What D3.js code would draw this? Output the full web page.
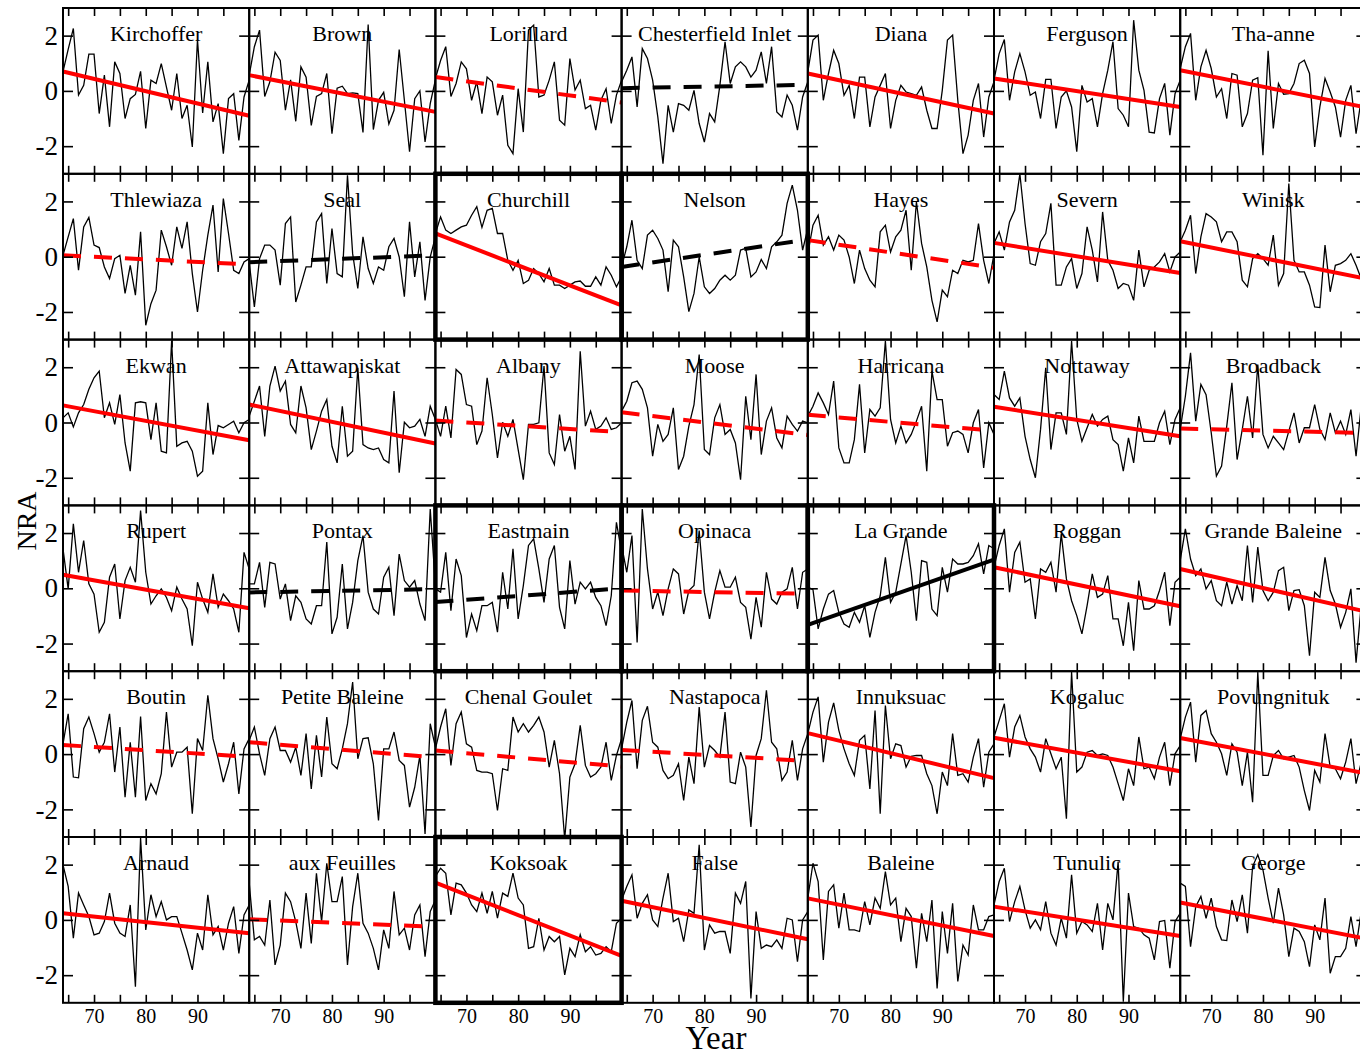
<!DOCTYPE html>
<html>
<head>
<meta charset="utf-8">
<script src="https://cdn.jsdelivr.net/npm/d3@7"></script>
<style>
  body { margin: 0; background: #fff; }
  svg { display: block; font-family: "Liberation Serif", "Times New Roman", serif; }
</style>
</head>
<body>
<div id="vis"></div>
<script>
// Frame and panel grid
const FRAME_WIDTH = 1360;
const FRAME_HEIGHT = 1057;
const MARGINS = {left: 63, top: 8};
const PANEL_W = 186.2;
const PANEL_H = 165.8;
const N_COLS = 7;
const SERIF = "'Liberation Serif', 'Times New Roman', serif";

// axis values
const years = d3.range(64, 101);        // 1964 .. 2000
const xTicks = [65, 70, 75, 80, 85, 90, 95];
const xLabels = [70, 80, 90];
const yTicks = [-2, 0, 2];

const stations = [
  "Kirchoffer", "Brown", "Lorillard", "Chesterfield Inlet", "Diana", "Ferguson", "Tha-anne",
  "Thlewiaza", "Seal", "Churchill", "Nelson", "Hayes", "Severn", "Winisk",
  "Ekwan", "Attawapiskat", "Albany", "Moose", "Harricana", "Nottaway", "Broadback",
  "Rupert", "Pontax", "Eastmain", "Opinaca", "La Grande", "Roggan", "Grande Baleine",
  "Boutin", "Petite Baleine", "Chenal Goulet", "Nastapoca", "Innuksuac", "Kogaluc", "Povungnituk",
  "Arnaud", "aux Feuilles", "Koksoak", "False", "Baleine", "Tunulic", "George"
];

// NRA series, one value per year
const kirchoffer = [0.7, 1.5, 2.26, -0.15, 0.2, 1.33, 1.33, -0.82, 0.57, -1.3, 1.05, 0.63, -1.0, -0.28, -0.13, 0.71, -1.36, 0.39, 0.27, 0.99, 0.14, -0.7, 0.63, -1.0, -0.52, -2.03, 1.86, -0.8, 1.05, -1.12, -0.46, -2.27, -0.28, -0.1, -1.79, -0.22, 0.39];
const brown = [0.57, 1.6, 2.2, -0.2, 0.33, 1.4, 1.1, -0.7, 0.4, -1.1, 0.87, 0.5, -1.25, -0.2, -0.1, 0.63, -1.55, 0.1, 0.17, -0.1, -0.07, -0.1, -1.5, 2.4, -1.4, -0.34, -0.05, -1.2, -0.7, 1.5, -0.34, -2.2, -0.28, 0, -1.85, -0.46, 0.4];
const lorillard = [0.45, 1.1, 1.6, -0.2, 0.27, 1.05, 0.8, -0.34, 0.33, -0.82, 0.5, 0.33, -0.88, -0.15, -1.97, -2.27, 0.08, -1.49, 2.2, 2.38, -0.22, -0.15, 0.39, 1.05, -1.06, -1.24, 1.17, 0.03, 0.39, -0.64, -0.52, -1.42, -0.34, 0.08, -1.18, -0.15, 0.39];
const chesterfield = [0.33, 0.75, 1.23, -0.58, 1.53, 1.17, 0.39, -0.94, -2.63, -0.52, -1.49, -0.46, -0.52, -0.7, 0.02, -1.18, -1.85, -0.82, -1.12, 0.2, 1.78, 0.27, 0.87, 1.05, 0.87, 0.5, 0.75, 1.41, 0.27, 1.6, -0.76, -0.94, -0.15, -0.52, -1.42, -0.22, 0.33];
const diana = [0.69, 1.84, 2.02, -0.34, 0.63, 1.47, 0.99, -0.16, 0.2, -1.0, 0.5, 0.5, -1.3, -0.22, 0.2, 0.63, -1.36, -0.34, 0.2, -0.04, -0.1, -0.16, 0.14, -0.7, -1.36, -1.36, 0.02, 1.84, 2.02, -0.34, -2.27, -1.6, -0.34, 0.27, -1.67, -0.22, 0.33];
const ferguson = [0.39, 1.35, 1.86, -0.34, 0.69, 1.35, 0.69, -0.16, -0.04, -1.0, 0.42, 0.42, -1.36, -0.22, 0, -0.58, -2.2, 0.2, -0.4, -0.28, -1.3, -0.1, 0.75, 1.78, -0.64, -0.88, -1.3, 2.56, 0.75, 0.02, -1.49, -1.52, -0.28, 0.27, -1.6, -0.1, 0.39];
const thaanne = [0.81, 1.6, 2.08, -0.34, 0.87, 1.47, 0.81, -0.22, 0.08, -1.0, 0.63, 0.57, -1.3, -0.82, 0.39, 0.48, -2.33, 1.45, -1.36, 0.27, -0.12, -0.1, 0.27, 0.99, 1.11, 0.63, -2.03, -0.58, 0.45, -0.04, -0.58, -1.67, -0.34, 0.2, -1.55, -0.3, 0.1];

const thlewiaza = [0.05, 0.72, 1.38, -0.49, 1.08, 1.42, 0.42, 0.33, -0.37, -0.79, -0.07, 0.05, -1.33, -0.31, -1.39, 0.9, -2.48, -1.7, -1.21, 0.96, 0.36, -0.31, 1.08, 0.3, 1.26, -0.61, -2.0, -0.49, 0.78, 1.87, -0.55, 2.1, 0.84, -0.49, -0.61, -0.19, -0.07];
const seal = [-0.19, -1.82, -0.07, 0.42, 0.42, 0.24, -1.03, 1.2, 1.44, -1.64, -1.03, -0.37, -0.37, 1.26, 1.56, -0.97, 1.02, -0.61, -0.73, 2.95, 0.11, -1.15, 0.72, -0.43, -0.97, -0.37, -0.49, 0.36, 0.66, -0.01, -1.45, 1.26, -0.73, 0.54, -1.58, -0.01, 0.72];
const churchill = [0.84, 1.44, 0.96, 0.84, 0.96, 1.08, 1.14, 1.5, 1.81, 1.06, 1.68, 1.75, 0.84, 0.84, -0.13, -0.49, -0.13, -0.97, -0.85, -0.43, -0.61, -0.91, -0.43, -1.03, -1.03, -1.15, -1.03, -0.91, -0.88, -1.07, -1.07, -0.73, -1.03, -0.37, -0.67, -1.09, -0.73];
const nelson = [-0.37, 0.36, 1.32, -0.13, -0.43, 0.78, 0.96, 0.66, 0.24, -1.27, 0.6, 0.36, -0.73, -1.99, -1.33, -0.01, -1.09, -1.33, -1.15, -0.85, -0.67, -0.85, -0.67, 0.24, 0.3, -0.73, -0.55, -0.1, -0.43, 0.36, 0.54, 0.78, 1.93, 2.59, 1.68, 0.24, 1.02];
const hayes = [0.11, 1.14, 1.5, 0.42, 0.72, 0.24, 0.78, 0.6, -0.01, -0.97, 0.24, -0.43, -0.85, -1.09, 0.9, 1.14, 0.17, 0.72, 0.96, 1.68, -0.49, 1.99, 0.48, -0.37, -1.58, -2.36, -1.21, -1.45, -0.49, -0.61, -0.13, -0.19, -0.13, 1.2, -0.13, -0.97, 0.11];
const severn = [0.48, 0.9, 0.24, 1.26, 1.68, 3.0, 1.2, -0.25, -0.31, 0.54, 0.84, 1.93, -1.03, -1.03, -0.37, -0.07, -1.15, -0.61, 1.08, 0.24, -0.91, 1.62, -0.13, -0.49, -1.15, -0.97, -1.03, -1.58, 0.24, -1.09, -0.49, -0.37, -0.19, 0.11, -0.55, -0.01, 0.17];
const winisk = [0.54, 0.96, 1.5, -0.61, 0.72, 1.56, 1.44, 1.26, 0.54, 0.9, 0.9, 0.54, -0.85, -1.09, -0.07, 0.11, -0.07, -0.31, 0.78, -1.03, -0.61, 2.65, -0.13, -0.55, -0.55, -1.03, -1.82, -1.84, 0.42, -1.27, -0.31, -0.25, -0.13, 0.11, -0.31, -0.8, -0.5];

const ekwan = [0.17, 0.35, -0.16, 0.35, 0.65, 1.2, 1.62, 1.86, 0.17, 0.71, -0.07, 1.01, -0.74, -1.76, 0.71, 0.75, 0.71, -0.62, 0.71, -1.04, -1.1, 2.95, -0.86, -0.74, -0.68, -1.04, -1.94, -1.76, 0.71, -1.16, -0.11, -0.19, -0.07, 0.05, -0.37, -0.01, 0.11];
const attawapiskat = [0.23, 0.77, 1.32, -0.5, 1.32, 2.04, 1.14, 1.5, -0.07, -0.37, 1.32, 0.53, -0.98, -0.31, 0.41, 0.83, -0.86, -1.46, 0.59, -1.22, -1.04, 1.98, -0.8, -0.92, -0.98, -0.92, -1.34, -1.46, 1.14, -1.82, 0.01, -0.19, -0.13, 0.11, -0.5, 0.59, 0.11];
const albany = [0.11, -0.5, 0.59, -0.56, 1.92, 1.74, 0.65, 0.59, -0.8, -0.31, 1.62, 0.29, -1.28, 0.01, -0.5, 0.11, -0.98, -2.07, -0.07, -0.07, -0.01, 2.04, -1.1, -1.52, 0.29, -1.04, -0.5, -1.7, 2.58, -0.13, 0.41, -0.25, -0.13, 0.17, -0.25, -0.19, -0.01];
const moose = [0.41, 0.77, 1.44, 1.5, 1.2, 0.53, -1.22, -0.07, -0.68, -0.43, 0.53, -1.7, -1.22, -0.13, 0.65, 2.46, -0.98, -1.16, 0.17, 0.65, -0.43, -0.25, -0.74, -2.07, 0.95, -0.62, 1.74, -1.16, 0.05, 0.53, -0.56, -0.92, 0.23, -0.07, -0.31, 0.05, -0.01];
const harricana = [0.23, 0.59, 1.07, 0.71, 0.29, 1.5, -0.92, -1.46, -1.46, -0.62, 1.38, -1.1, 0.47, 0.23, 0.53, 2.95, 0.11, -0.74, -0.13, -0.74, -0.43, 0.05, 0.59, -1.76, 1.86, 0.83, 0.83, -0.86, -0.37, -0.31, -0.43, -1.1, -0.01, 0.47, -1.64, -0.01, -0.43];
const nottaway = [1.01, 0.83, 1.86, 0.89, 0.59, 0.89, -0.5, -1.34, -2.0, -0.25, 1.98, -0.98, 0.35, 0.35, -0.43, 2.95, 0.11, -0.68, -0.19, 0.29, -0.13, 0.11, 0.23, -0.62, -0.8, -1.76, -0.56, -1.46, 0.23, -0.68, -0.68, -0.68, -0.01, 0.41, -0.8, 0.11, 0.53];
const broadback = [-0.25, 0.95, 2.52, 0.05, 1.38, 1.01, -0.37, -1.94, -1.58, -0.13, 1.44, -1.34, -0.25, 0.95, -0.56, 2.1, -0.43, -0.92, -0.5, -0.74, -0.98, -0.31, 0.35, -0.74, -0.19, -0.19, 0.65, -0.25, -0.62, 0.35, -0.37, 0.05, -0.43, 0.47, -1.22, 0.6, -0.2];

const rupert = [1.43, -0.02, 2.33, 0.58, 1.73, 0.16, -0.21, -1.59, -1.23, 0.4, 0.88, -1.11, 0.28, 0.76, 0.22, 2.81, 0.58, -0.57, -0.27, -0.02, -0.33, -0.81, 0.04, -0.39, -0.75, -2.08, 0.22, -0.39, -0.87, 0.52, -0.69, -0.21, -0.45, -0.75, -1.59, 1.3, 0.7];
const pontax = [0.16, 0.16, 0.94, -0.69, 0.94, 0.88, -0.39, 0.16, -1.17, -0.27, -0.51, -1.11, -1.29, -0.63, -0.63, 1.67, -1.65, -1.05, 0.88, -1.47, -0.51, 1.0, 1.91, -0.14, -0.75, -0.93, 0.4, 0.76, -0.99, 1.24, 0.28, 0.04, 0.28, -0.57, -1.17, 2.87, 0.1];
const eastmain = [-0.02, -0.14, 1.3, -0.81, 1.06, 0.46, -1.78, -0.93, -1.53, -0.63, -0.63, -0.51, -1.59, 0.58, -0.75, 1.43, -1.11, 0.1, 1.55, 1.79, 0.7, -0.51, 1.06, 1.55, -0.69, -1.47, 1.0, -0.57, 0.22, -0.02, 0.22, -0.33, -0.63, -1.35, -0.27, 2.39, 1.3];
const opinaca = [1.55, 0.58, 1.91, -1.96, 2.87, 0.7, -0.75, -0.14, -0.99, -0.02, 0.7, 0.52, -0.93, -0.08, 0.1, 2.09, -0.14, -1.11, -0.14, 0.64, 0.04, 0.04, 0.4, -0.51, -0.69, -1.84, -0.33, -1.41, 0.58, -0.39, -0.57, -0.14, -0.02, 0.76, -0.75, 0.58, 0.7];
const lagrande = [0.04, -0.05, -1.47, -0.75, -0.21, -0.08, -0.87, -1.29, -1.41, -0.87, -1.23, -0.63, -1.78, -0.87, -0.27, 1.12, -0.51, -0.14, 0.88, 1.91, 0.58, -1.17, 1.0, 0.94, -0.75, -0.99, 0.76, -0.14, 1.06, 0.88, 0.88, 0.94, 1.18, 1.61, 0.52, 1.55, 1.43];
const roggan = [0.76, 1.55, 2.15, -0.14, 1.3, 1.67, 0.22, 0.34, -1.11, 0.7, 0.58, 0.94, -0.14, 1.97, 0.34, -0.45, -0.99, -1.65, -0.63, 0.52, -0.33, -0.21, 0.46, -1.11, -1.11, -2.08, -0.51, -2.26, 0.28, -0.75, -0.75, -0.63, -0.08, 0.58, -1.35, 0.22, 0.4];
const grandebaleine = [1.0, 2.15, 1.06, 0.46, 0.7, -0.02, 0.28, -0.45, -0.63, 0.22, -0.57, 0.1, -0.45, 1.55, -0.51, 1.49, -0.08, -0.45, -0.14, 0.64, 0.76, -0.81, -0.08, -0.05, -0.63, -2.44, -0.14, -0.33, 1.12, -0.08, -0.57, -1.41, -0.87, -0.02, -2.69, -0.6, 0.2];

const boutin = [0.37, 1.46, -0.83, -0.86, 0.92, 1.34, 0.74, 0.07, 0.43, 1.46, -0.65, 0.98, -1.56, 0.43, -1.56, 1.36, -1.68, -1.07, -1.44, -0.71, 1.52, -0.47, 0.07, 0.07, 0.25, -2.16, 0.56, 0.13, 2.13, 0.56, -0.17, -1.01, -0.35, 0.43, -1.44, 0.19, 0.56];
const petitebaleine = [0.5, 0.98, 0.01, -0.77, 0.56, 0.98, 0.13, 0.13, -0.29, 0.25, -0.77, 0.74, -1.26, 0.68, -0.83, 1.34, -0.35, -0.53, 0.19, 1.1, 2.61, -0.17, 0.56, 0.59, -0.35, -2.4, 0.19, 0.19, 0.8, -0.23, -0.41, -1.92, -1.2, -0.05, -2.89, 1.1, 0.25];
const chenalgoulet = [0.19, 0.98, 1.64, -0.41, 1.1, 1.52, 0.37, 0.25, -0.59, -0.65, -0.65, -0.71, -2.04, -0.53, -0.59, 1.34, 0.8, 1.1, 0.8, 1.04, 1.34, 0.8, -0.47, 0.5, -0.71, -3.07, -0.83, -0.35, 1.04, -0.41, -0.83, -0.71, -0.47, 0.43, -0.95, -0.05, 0.56];
const nastapoca = [0.19, 1.16, 1.94, -0.53, 1.22, 1.73, 0.43, 0.25, -0.59, -0.89, -0.77, -0.35, -1.68, -0.11, -1.07, 1.7, -0.47, 0.31, 0.13, -0.11, 1.52, -1.01, -1.07, 0.07, -0.47, -2.64, -0.05, 0.56, 2.31, 0.43, 0.19, -0.95, -0.65, 0.5, -0.95, 0.19, 0.74];
const innuksuac = [0.74, 1.52, 2.07, -0.29, 1.16, 1.85, 0.86, 0.19, -0.35, -0.77, 0.5, 0.68, -1.26, 1.58, -2.16, 1.76, -0.17, 0.37, 0.31, -0.47, -0.08, -0.05, -0.05, -0.71, -1.14, -2.16, -0.65, -1.14, 0.74, -0.77, -0.71, -1.01, -0.11, 0.56, -1.2, 0.07, 0.37];
const kogaluc = [0.62, 1.22, 1.82, -0.11, 0.98, 1.4, 0.62, 0.19, -0.11, -0.65, 0.56, 0.01, -0.53, -0.11, -2.34, 2.97, -0.65, -0.47, 0.07, 0.13, -0.05, 0.01, -0.05, -0.47, -1.07, -1.68, -0.53, -1.14, 0.62, -0.53, -0.47, -0.89, -0.11, 0.43, -1.14, 0.01, 0.31];
const povungnituk = [0.56, 1.34, 1.88, -0.29, 1.4, 1.58, 0.74, 0.43, 0.01, -0.77, 0.37, 0.07, -1.14, 0.07, -1.74, 2.97, -0.77, -0.77, -0.05, 0.13, -0.17, -0.11, -0.05, -0.47, -1.32, -2.04, -0.59, -1.01, 0.74, -0.47, -0.53, -0.89, -0.29, 0.56, -1.07, -0.3, 0.4];

const arnaud = [1.99, 1.21, -0.66, 0.97, 0.54, 0.12, -0.54, -0.48, -0.06, 0.97, -0.12, -0.48, -0.6, 0.54, -2.42, 2.96, -0.36, 0.91, 0.12, 0.66, 0.0, 0.12, 0.12, -0.48, -1.09, -1.81, -0.48, -1.09, 0.91, -0.54, -0.24, -1.09, -0.12, 0.48, -1.21, 0.18, 0.54];
const auxfeuilles = [1.33, -0.72, -0.6, -0.91, 0.72, -1.63, -0.91, 0.97, 0.66, -0.06, -1.03, 0.97, -0.85, 1.69, -0.06, 2.05, 0.66, 0.66, 1.57, -1.63, 0.48, 1.69, -0.12, -0.48, -1.03, -1.81, -0.36, -1.03, 1.03, -0.54, -0.3, -1.09, 0.18, 0.54, -1.33, 0.3, 0.72];
const koksoak = [1.57, 1.87, 1.69, 0.18, 1.33, 1.27, 0.97, 0.54, 0.3, 0.97, 0.24, 1.03, 0.06, 0.97, 0.85, 1.69, 0.79, 0.54, -1.03, -0.97, 0.06, -1.09, -0.6, -0.79, -0.6, -1.99, -1.03, -1.33, -0.54, -1.15, -0.97, -1.27, -1.21, -0.97, -1.15, -0.12, 0.06];
const falseRiver = [0.72, 1.21, 1.63, 0.06, 0.6, 0.91, 0.0, -0.24, 0.79, 1.69, -0.06, 0.06, -0.79, 0.36, 0.24, 2.72, -1.09, -0.18, -0.48, -0.42, -0.42, -1.21, 0.97, 0.6, 1.39, -2.84, 0.3, -1.03, -0.91, -0.97, -0.72, -1.03, 0.06, 0.0, -1.51, 0.0, 0.3];
const baleine = [0.79, 2.05, 1.39, -1.45, 1.03, 1.27, -0.3, 0.97, -0.36, -0.36, -0.42, 0.66, -0.18, 0.79, 0.42, 1.75, 0.54, 0.79, -0.79, 0.42, 0.12, -1.75, 0.24, -0.79, 0.72, -2.48, 0.3, -1.21, 0.6, -2.23, -0.91, -1.27, 0.54, -0.36, -0.36, 0.12, 0.18];
const tunulic = [0.54, 1.39, 1.87, -0.06, 0.66, 1.21, 0.36, -0.3, 0.0, -0.36, 0.66, -0.48, -0.91, 0.06, -0.66, 1.63, -0.48, -0.06, -0.18, -0.42, 0.6, -1.09, 0.6, 0.0, 2.11, -2.96, 0.97, -0.24, -0.3, -0.54, -0.66, -1.45, -0.06, -0.02, -1.75, -0.06, 0.24];
const george = [1.33, 1.21, -0.97, 0.48, 0.85, 0.06, 0.79, -0.24, -0.72, -0.75, 0.72, -0.06, 0.91, -0.48, 1.93, 2.36, 1.81, 0.79, -0.12, 1.15, 0.18, -1.33, -0.3, -0.42, -0.79, -1.69, -0.18, -0.72, 0.79, -1.93, -1.33, -1.33, -1.03, 0.12, -0.97, 0.3, -0.5];

const SERIES = [
  kirchoffer, brown, lorillard, chesterfield, diana, ferguson, thaanne,
  thlewiaza, seal, churchill, nelson, hayes, severn, winisk,
  ekwan, attawapiskat, albany, moose, harricana, nottaway, broadback,
  rupert, pontax, eastmain, opinaca, lagrande, roggan, grandebaleine,
  boutin, petitebaleine, chenalgoulet, nastapoca, innuksuac, kogaluc, povungnituk,
  arnaud, auxfeuilles, koksoak, falseRiver, baleine, tunulic, george
];

// fitted trend: value in 1964 and in 2000
const trendStart = [0.7, 0.57, 0.5, 0.1, 0.63, 0.45, 0.75,
                    0.05, -0.2, 0.84, -0.37, 0.6, 0.5, 0.56,
                    0.62, 0.65, 0.07, 0.37, 0.28, 0.57, -0.22,
                    0.49, -0.15, -0.5, -0.08, -1.32, 0.76, 0.7,
                    0.33, 0.43, 0.13, 0.15, 0.76, 0.59, 0.58,
                    0.24, 0.02, 1.35, 0.69, 0.78, 0.48, 0.63];
const trendEnd = [-0.9, -0.76, -0.42, 0.22, -0.82, -0.58, -0.6,
                  -0.28, 0.05, -1.76, 0.62, -0.4, -0.59, -0.8,
                  -0.64, -0.76, -0.35, -0.45, -0.3, -0.5, -0.38,
                  -0.72, -0.03, 0.0, -0.2, 1.04, -0.65, -0.85,
                  -0.1, -0.12, -0.45, -0.25, -0.87, -0.62, -0.7,
                  -0.48, -0.25, -1.3, -0.7, -0.58, -0.58, -0.68];
// sd = significant decrease, nd = non-significant decrease,
// nu = non-significant increase, su = significant increase
const trendKind = ["sd", "sd", "nd", "nu", "sd", "sd", "sd",
                   "nd", "nu", "sd", "nu", "nd", "sd", "sd",
                   "sd", "sd", "nd", "nd", "nd", "sd", "nd",
                   "sd", "nu", "nu", "nd", "su", "sd", "sd",
                   "nd", "nd", "nd", "nd", "sd", "sd", "sd",
                   "sd", "nd", "sd", "sd", "sd", "sd", "sd"];
const boldStations = ["Churchill", "Nelson", "Eastmain", "Opinaca", "La Grande", "Koksoak"];

const FRAME = d3.select("#vis")
                .append("svg")
                  .attr("width", FRAME_WIDTH)
                  .attr("height", FRAME_HEIGHT)
                  .style("font-family", SERIF);

// scales shared by every panel
const X_SCALE = d3.scaleLinear().domain([64, 100]).range([0, PANEL_W]);
const Y_SCALE = d3.scaleLinear().domain([-3, 3]).range([PANEL_H, 0]);

const LINE = d3.line()
               .x((d, i) => X_SCALE(years[i]))
               .y((d) => Y_SCALE(d));

const N_ROWS = Math.ceil(stations.length / N_COLS);

function panelOrigin(i) {
  const col = i % N_COLS;
  const row = Math.floor(i / N_COLS);
  return [MARGINS.left + col * PANEL_W, MARGINS.top + row * PANEL_H, col, row];
}

function styleAxis(g, fontSize) {
  g.select(".domain").remove();
  g.selectAll(".tick line").attr("stroke", "#000").attr("stroke-width", 1.6);
  g.attr("font-size", fontSize);
  g.selectAll(".tick text")
     .attr("fill", "#000")
     .style("font-family", SERIF);
}

stations.forEach((name, i) => {
  const [x0, y0, col, row] = panelOrigin(i);
  const g = FRAME.append("g")
                 .attr("transform", "translate(" + x0 + "," + y0 + ")");

  g.append("clipPath")
     .attr("id", "clip" + i)
   .append("rect")
     .attr("width", PANEL_W)
     .attr("height", PANEL_H);

  // yearly series
  g.append("path")
     .datum(SERIES[i])
     .attr("clip-path", "url(#clip" + i + ")")
     .attr("fill", "none")
     .attr("stroke", "#000")
     .attr("stroke-width", 1.3)
     .attr("d", LINE);

  // trend line
  const kind = trendKind[i];
  g.append("line")
     .attr("x1", X_SCALE(64))
     .attr("y1", Y_SCALE(trendStart[i]))
     .attr("x2", X_SCALE(100))
     .attr("y2", Y_SCALE(trendEnd[i]))
     .attr("stroke", (kind === "sd" || kind === "nd") ? "#ff0000" : "#000")
     .attr("stroke-width", 4)
     .attr("stroke-dasharray", (kind === "nd" || kind === "nu") ? "18,13" : null);

  // ticks on all four sides, pointing inward
  g.append("g")
     .call(d3.axisTop(X_SCALE).tickValues(xTicks).tickSize(-8).tickFormat(""))
     .call(styleAxis, 20);

  g.append("g")
     .attr("transform", "translate(0," + PANEL_H + ")")
     .call(d3.axisBottom(X_SCALE).tickValues(xTicks).tickSize(-8).tickPadding(6)
             .tickFormat((d) => (row === N_ROWS - 1 && xLabels.includes(d)) ? String(d) : ""))
     .call(styleAxis, 20);

  g.append("g")
     .call(d3.axisLeft(Y_SCALE).tickValues(yTicks).tickSize(-10).tickPadding(5)
             .tickFormat((d) => col === 0 ? String(d) : ""))
     .call(styleAxis, 27);

  g.append("g")
     .attr("transform", "translate(" + PANEL_W + ",0)")
     .call(d3.axisRight(Y_SCALE).tickValues(yTicks).tickSize(-10).tickFormat(""))
     .call(styleAxis, 20);

  // station name
  g.append("text")
     .attr("x", PANEL_W / 2)
     .attr("y", 33)
     .attr("text-anchor", "middle")
     .attr("font-size", 22)
     .text(name);

  // thin frame
  g.append("rect")
     .attr("width", PANEL_W)
     .attr("height", PANEL_H)
     .attr("fill", "none")
     .attr("stroke", "#000")
     .attr("stroke-width", 2);
});

// bold frames go on top of neighbours
stations.forEach((name, i) => {
  if (!boldStations.includes(name)) return;
  const [x0, y0] = panelOrigin(i);
  FRAME.append("rect")
     .attr("x", x0)
     .attr("y", y0)
     .attr("width", PANEL_W)
     .attr("height", PANEL_H)
     .attr("fill", "none")
     .attr("stroke", "#000")
     .attr("stroke-width", 4.5);
});

// axis titles
FRAME.append("text")
     .attr("transform", "translate(36,521) rotate(-90)")
     .attr("text-anchor", "middle")
     .attr("font-size", 28)
     .text("NRA");

FRAME.append("text")
     .attr("x", 716)
     .attr("y", 1049)
     .attr("text-anchor", "middle")
     .attr("font-size", 33)
     .text("Year");
</script>
</body>
</html>
